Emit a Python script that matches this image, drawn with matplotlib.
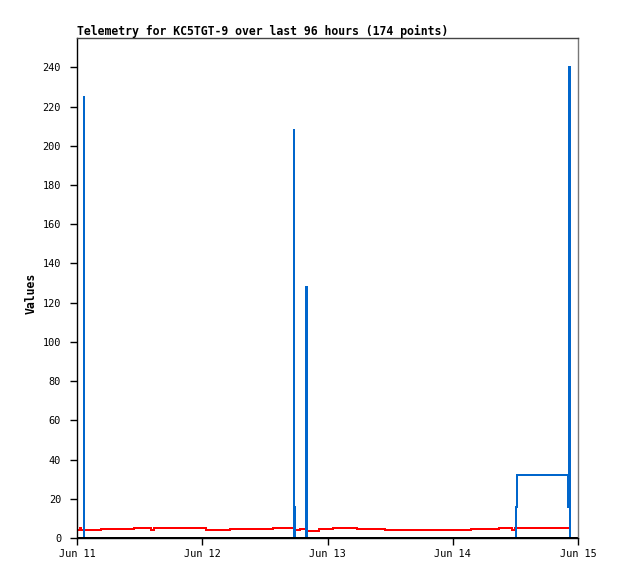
import matplotlib
matplotlib.use('Agg')
import matplotlib.pyplot as plt

# Hours since Jun 11 00:00
day_ticks = [0, 24, 48, 72, 96]
day_labels = ["Jun 11", "Jun 12", "Jun 13", "Jun 14", "Jun 15"]
y_ticks = list(range(0, 241, 20))

red_hours = [0.3, 0.5, 0.77, 4.6, 11.0, 14.2, 14.8, 24.7, 29.3, 37.5, 41.5, 42.7,
             44.0, 46.4, 49.1, 53.7, 59.1, 75.5, 80.9, 83.4, 83.9, 94.0]
red_values = [3.9, 4.9, 3.9, 4.4, 4.9, 3.9, 4.9, 3.9, 4.4, 4.9, 4.0, 4.6,
              3.8, 4.4, 4.9, 4.4, 3.9, 4.4, 4.9, 3.9, 4.9, 4.9]

blue_hours = [0.3, 1.28, 1.36, 41.5, 41.62, 41.8, 43.95, 44.03, 84.06, 84.26,
              94.0, 94.25, 94.42, 96.0]
blue_values = [0, 225, 0, 208, 16, 0, 128, 0, 16, 32, 16, 240, 0, 0]

zero_hours = [0.4, 96.0]
zero_values = [0, 0]

fig = plt.figure(figsize=(6.18, 5.79), dpi=100)
ax = fig.add_axes([77/618, 41/579, 501/618, 500/579])

ax.plot(red_hours, red_values, drawstyle='steps-post', color='#ff0000', lw=1.3,
        antialiased=False)
ax.plot(blue_hours, blue_values, drawstyle='steps-post', color='#0066cc', lw=1.4,
        antialiased=False)
ax.plot(zero_hours, zero_values, color='#000000', lw=1.3, clip_on=False,
        antialiased=False)

ax.set_xlim(0, 96)
ax.set_ylim(0, 255)
ax.set_xticks(day_ticks)
ax.set_xticklabels(day_labels)
ax.set_yticks(y_ticks)

for lab in ax.get_xticklabels() + ax.get_yticklabels():
    lab.set_fontfamily('DejaVu Sans Mono')
    lab.set_fontsize(7.4)

ax.tick_params(axis='y', direction='out', length=5, width=1, pad=6.5)
ax.tick_params(axis='x', direction='out', length=5, width=1, pad=3)

ax.spines['left'].set_color('#000000')
ax.spines['bottom'].set_color('#000000')
ax.spines['top'].set_color('#444444')
ax.spines['right'].set_color('#777777')
for s in ax.spines.values():
    s.set_linewidth(1)

ax.set_title("Telemetry for KC5TGT-9 over last 96 hours (174 points)", loc='left',
             fontfamily='DejaVu Sans Mono', fontweight='bold', fontsize=8.3, pad=2)
ax.set_ylabel("Values", fontfamily='DejaVu Sans Mono', fontweight='bold', fontsize=8.3)
ax.yaxis.set_label_coords((38 - 77) / 501, 0.49)

fig.savefig('out.png', dpi=100)
